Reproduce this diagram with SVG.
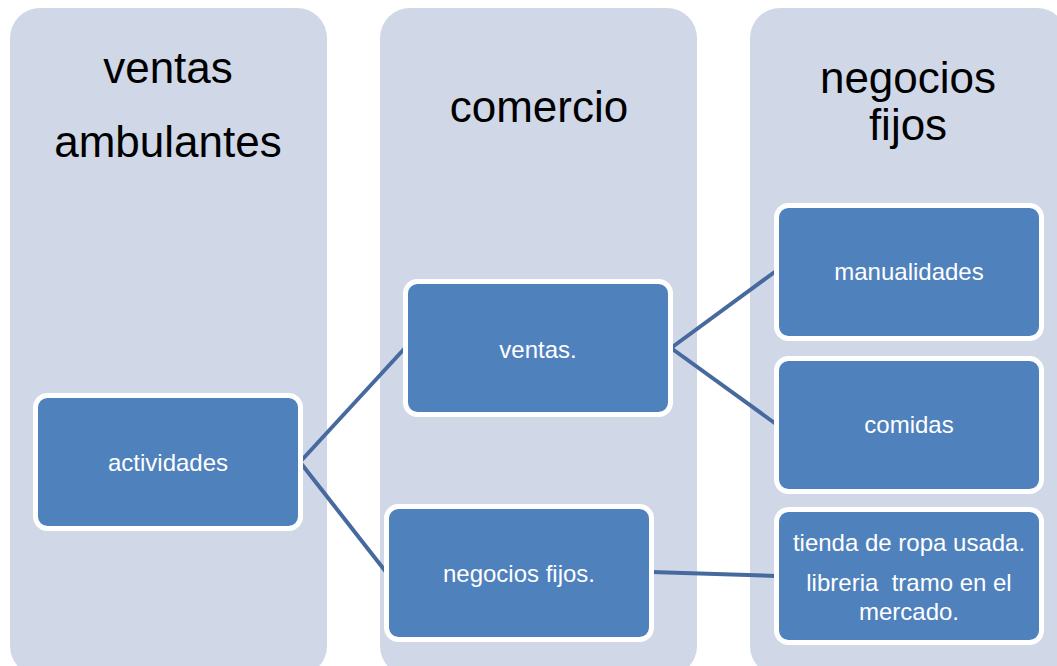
<svg xmlns="http://www.w3.org/2000/svg" width="1057" height="666" viewBox="0 0 1057 666">
<style>
.col{fill:#D0D8E8}
.node{fill:#4F81BD;stroke:#FFFFFF;stroke-width:5}
.hdr{font-family:"Liberation Sans",Arial,sans-serif;font-size:44px;fill:#000;text-anchor:middle}
.lbl{font-family:"Liberation Sans",Arial,sans-serif;font-size:24px;fill:#FFFFFF;text-anchor:middle;white-space:pre}
.conn{stroke:#46699E;stroke-width:4;fill:none}
</style>
<rect width="1057" height="666" fill="#FFFFFF"/>
<g id="col-ventas-ambulantes">
<rect class="col" x="10" y="8" width="317" height="668" rx="30"/>
<text class="hdr" x="168" y="83">ventas</text>
<text class="hdr" x="168" y="157">ambulantes</text>
</g>
<g id="col-comercio">
<rect class="col" x="380" y="8" width="317" height="668" rx="30"/>
<text class="hdr" x="539" y="122">comercio</text>
</g>
<g id="col-negocios-fijos">
<rect class="col" x="750" y="8" width="317" height="668" rx="30"/>
<text class="hdr" x="908" y="93">negocios</text>
<text class="hdr" x="908" y="140">fijos</text>
</g>
<g id="connectors">
<line class="conn" x1="300" y1="462" x2="405" y2="348"/>
<line class="conn" x1="300" y1="462" x2="386" y2="572"/>
<line class="conn" x1="671" y1="348" x2="776" y2="271"/>
<line class="conn" x1="671" y1="348" x2="776" y2="424"/>
<line class="conn" x1="651" y1="572" x2="776" y2="576"/>
</g>
<g id="node-actividades">
<rect class="node" x="35.5" y="395.5" width="265" height="133" rx="12"/>
<text class="lbl" x="168" y="471">actividades</text>
</g>
<g id="node-ventas">
<rect class="node" x="405.5" y="281.5" width="265" height="133" rx="12"/>
<text class="lbl" x="538" y="358">ventas.</text>
</g>
<g id="node-negocios-fijos">
<rect class="node" x="386.5" y="506.5" width="265" height="133" rx="12"/>
<text class="lbl" x="519" y="582">negocios fijos.</text>
</g>
<g id="node-manualidades">
<rect class="node" x="776.5" y="205.5" width="265" height="133" rx="12"/>
<text class="lbl" x="909" y="280">manualidades</text>
</g>
<g id="node-comidas">
<rect class="node" x="776.5" y="358.5" width="265" height="133" rx="12"/>
<text class="lbl" x="909" y="433">comidas</text>
</g>
<g id="node-tienda">
<rect class="node" x="776.5" y="509.5" width="265" height="133" rx="12"/>
<text class="lbl" x="909" y="551">tienda de ropa usada.</text>
<text class="lbl" x="909" y="591" xml:space="preserve">libreria  tramo en el</text>
<text class="lbl" x="909" y="620">mercado.</text>
</g>
</svg>
